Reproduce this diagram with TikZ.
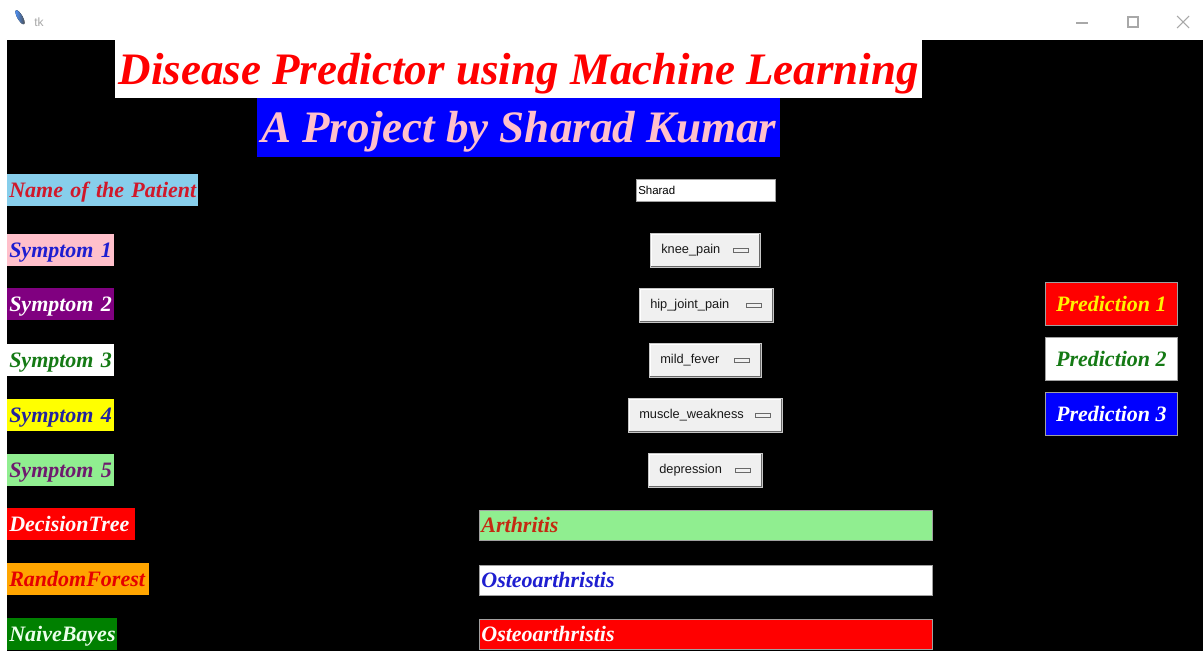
\documentclass[tikz,border=0pt]{standalone}
\usepackage{fontspec}
\setmainfont{Liberation Serif}
\newfontfamily\uifont{Liberation Sans}
\newdimen\PX \PX=0.75pt
\definecolor{tkred}{HTML}{FF0000}
\definecolor{tkpink}{HTML}{FFC0CB}
\definecolor{tksky}{HTML}{87CEEB}
\definecolor{tkpurple}{HTML}{800080}
\definecolor{tkgreen}{HTML}{008000}
\definecolor{tklgreen}{HTML}{90EE90}
\definecolor{tkorange}{HTML}{FFA500}
\definecolor{tkyellow}{HTML}{FFFF00}
\definecolor{tkblue}{HTML}{0000FF}
\definecolor{namefg}{HTML}{D0182A}
\definecolor{navyfg}{HTML}{22229E}
\definecolor{bluefg}{HTML}{1E1ED0}
\definecolor{greenfg}{HTML}{157A15}
\definecolor{purplefg}{HTML}{6E1A6E}
\definecolor{arthfg}{HTML}{C42A12}
\definecolor{btnface}{HTML}{F0F0F0}
\definecolor{btnshadow}{HTML}{A0A0A0}
\definecolor{btndark}{HTML}{696969}
\definecolor{chrome}{HTML}{A8A8A8}
\newcommand{\lblfont}{\fontsize{16.5pt}{20pt}\selectfont\bfseries\itshape}
\newcommand{\ttlfont}{\fontsize{33.75pt}{38pt}\selectfont\bfseries\itshape}
\newcommand{\ddfont}{\uifont\fontsize{9.6pt}{11pt}\selectfont}
\tikzset{
  lbl/.style={anchor=north west, inner xsep=2\PX, inner ysep=0pt, minimum height=32\PX,
    align=left, font=\lblfont, text height=20\PX, text depth=4.9\PX},
  res/.style={lbl, minimum height=30\PX, draw=btnshadow, line width=0.6pt},
  pred/.style={anchor=north west, inner sep=0pt, minimum width=132\PX, minimum height=43\PX,
    font=\lblfont, draw=btnshadow, line width=0.6pt, text height=20\PX, text depth=4.9\PX},
  ttl/.style={anchor=north west, inner sep=0pt, font=\ttlfont, text height=40\PX, text depth=9.7\PX},
  bevel/.style={path picture={
    \draw[white, line width=2.2pt] (path picture bounding box.south west) -- (path picture bounding box.north west) -- (path picture bounding box.north east);
    \draw[btndark, line width=2.2pt] (path picture bounding box.north east) -- (path picture bounding box.south east) -- (path picture bounding box.south west);}},
  dd/.style={anchor=north west, inner sep=0pt, minimum height=34\PX, fill=btnface,
    draw=btnshadow!60, line width=0.6pt, bevel},
  ddtext/.style={anchor=west, inner sep=0pt, font=\ddfont, text=black!90},
  ddind/.style={anchor=east, inner sep=0pt, minimum width=15\PX, minimum height=4\PX,
    fill=btnface, draw=btndark, line width=0.5pt},
}
\begin{document}
\begin{tikzpicture}[x=0.75pt,y=-0.75pt]
\useasboundingbox (0,0) rectangle (1203,651);
% window
\fill[white] (0,0) rectangle (1203,651);
\fill[black] (7,40) rectangle (1203,651);
% title bar
\fill[left color=blue!60!cyan!70, right color=black!70, rotate around={-60:(21,23)}] (15.5,21) ellipse[x radius=8, y radius=2.6];
\node[anchor=west, inner sep=0pt, font=\uifont\fontsize{9pt}{10pt}\selectfont, text=chrome] (tk) at (34,22) {tk};
\coordinate (minA) at (1076,23); \coordinate (minB) at (1088,23);
\draw[chrome, line width=0.8pt] (minA) -- (minB);
\node[draw=chrome, line width=0.8pt, minimum size=10\PX, inner sep=0pt] (maxbox) at (1133,22) {};
\coordinate (xa) at (1177,16); \coordinate (xb) at (1189,28);
\coordinate (xc) at (1177,28); \coordinate (xd) at (1189,16);
\draw[chrome, line width=0.8pt] (xa) -- (xb) (xc) -- (xd);
% titles
\node[ttl, fill=white, text=tkred, minimum width=807\PX, minimum height=58\PX] (title) at (115,40) {Disease Predictor using Machine Learning};
\node[ttl, fill=tkblue, text=tkpink, minimum width=523\PX, minimum height=59\PX] (subtitle) at (257,98) {A Project by Sharad Kumar};
% left labels
\node[lbl, fill=tksky, text=namefg, text width=187\PX] (name) at (7,174) {\mbox{Name of the Patient}};
\node[lbl, fill=tkpink, text=bluefg, text width=103\PX] (s1) at (7,234) {\mbox{Symptom 1}};
\node[lbl, fill=tkpurple, text=white, text width=103\PX] (s2) at (7,288) {\mbox{Symptom 2}};
\node[lbl, fill=white, text=greenfg, text width=103\PX] (s3) at (7,344) {\mbox{Symptom 3}};
\node[lbl, fill=tkyellow, text=navyfg, text width=103\PX] (s4) at (7,399) {\mbox{Symptom 4}};
\node[lbl, fill=tklgreen, text=purplefg, text width=103\PX] (s5) at (7,454) {\mbox{Symptom 5}};
\node[lbl, fill=tkred, text=white!92!pink, text width=124\PX] (dt) at (7,508) {\mbox{DecisionTree}};
\node[lbl, fill=tkorange, text=red!90!black, text width=138\PX] (rf) at (7,563) {\mbox{RandomForest}};
\node[lbl, fill=tkgreen, text=white!92!green, text width=106\PX] (nb) at (7,618) {\mbox{NaiveBayes}};
% entry
\node[anchor=north west, fill=white, draw=btnshadow, line width=0.6pt, minimum width=139\PX, minimum height=22\PX, inner sep=0pt] (entry) at (636,179) {};
\node[anchor=west, inner sep=0pt, font=\uifont\fontsize{8.6pt}{10pt}\selectfont] (entrytext) at ([xshift=2\PX]entry.west) {Sharad};
% dropdowns
\node[dd, minimum width=110\PX] (d1) at (650,233) {};
\node[ddtext] (d1t) at ([xshift=11\PX]d1.west) {knee\_pain};
\node[ddind] (d1i) at ([xshift=-12\PX]d1.east) {};
\node[dd, minimum width=134\PX] (d2) at (639,288) {};
\node[ddtext] (d2t) at ([xshift=11\PX]d2.west) {hip\_joint\_pain};
\node[ddind] (d2i) at ([xshift=-12\PX]d2.east) {};
\node[dd, minimum width=112\PX] (d3) at (649,343) {};
\node[ddtext] (d3t) at ([xshift=11\PX]d3.west) {mild\_fever};
\node[ddind] (d3i) at ([xshift=-12\PX]d3.east) {};
\node[dd, minimum width=154\PX] (d4) at (628,398) {};
\node[ddtext] (d4t) at ([xshift=11\PX]d4.west) {muscle\_weakness};
\node[ddind] (d4i) at ([xshift=-12\PX]d4.east) {};
\node[dd, minimum width=114\PX] (d5) at (648,453) {};
\node[ddtext] (d5t) at ([xshift=11\PX]d5.west) {depression};
\node[ddind] (d5i) at ([xshift=-12\PX]d5.east) {};
% predictions
\node[pred, fill=tkred, text=tkyellow!90!orange] (p1) at (1045,282) {Prediction 1};
\node[pred, fill=white, text=greenfg] (p2) at (1045,337) {Prediction 2};
\node[pred, fill=tkblue, text=white] (p3) at (1045,392) {Prediction 3};
% results
\node[res, fill=tklgreen, text=arthfg, text width=449\PX] (r1) at (479,510) {Arthritis};
\node[res, fill=white, text=bluefg, text width=449\PX] (r2) at (479,565) {Osteoarthristis};
\node[res, fill=tkred, text=white!92!pink, text width=449\PX] (r3) at (479,619) {Osteoarthristis};
\end{tikzpicture}
\end{document}
